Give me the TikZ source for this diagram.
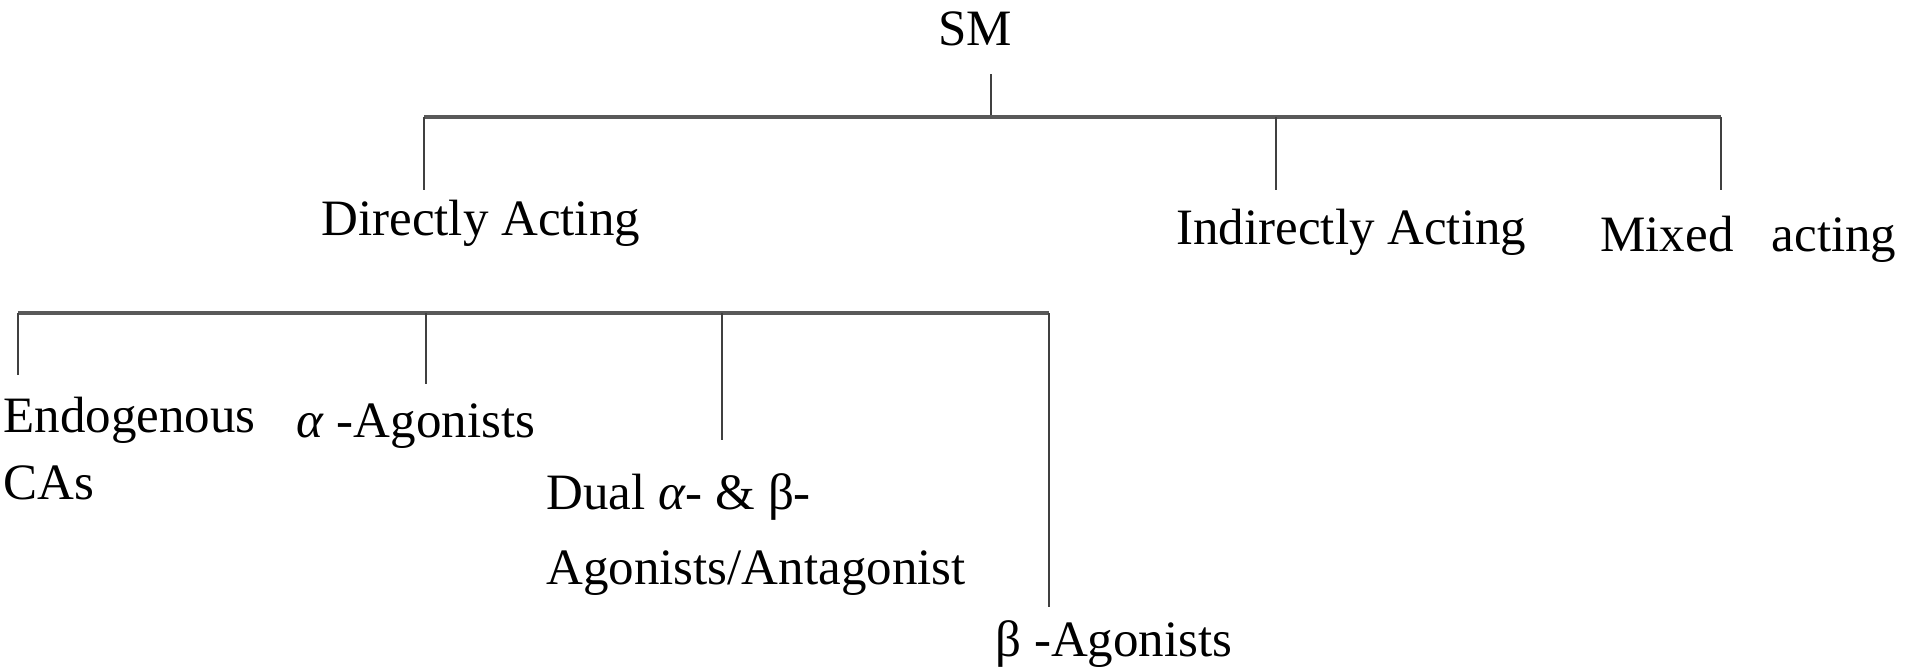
\documentclass[tikz,border=0pt]{standalone}
\usepackage{fontspec}
\setmainfont{Liberation Serif}
\usetikzlibrary{positioning}
\tikzset{
    lbl/.style={inner sep=0pt, anchor=base west, align=left, font=\fontsize{25.5}{33.5}\selectfont},
    bar/.style={draw=black!65, line width=1.8pt},
    drop/.style={draw=black!75, line width=1.2pt},
}
\begin{document}
\begin{tikzpicture}[x=0.5pt, y=-0.5pt]
    \useasboundingbox (0,0) rectangle (1907,670);
    \node [lbl, anchor=base] (sm) at (975,45) {SM};
    \coordinate (s0) at (991,74);
    \coordinate (s1) at (991,117);
    \coordinate (t0) at (424,117);
    \coordinate (t1) at (1276,117);
    \coordinate (t2) at (1721,117);
    \node [lbl] (da) at (321,235) {Directly Acting};
    \node [lbl] (ia) at (1176,244) {Indirectly Acting};
    \node [lbl] (ma) at (1600,251) {Mixed~~~acting};
    \coordinate (d0) at (424,190);
    \coordinate (d1) at (1276,190);
    \coordinate (d2) at (1721,190);
    \coordinate (b0) at (18,313);
    \coordinate (b1) at (426,313);
    \coordinate (b2) at (722,313);
    \coordinate (b3) at (1049,313);
    \node [lbl] (en) at (3,499) {Endogenous\\CAs};
    \node [lbl] (al) at (296,437) {\textit{α} -Agonists};
    \node [lbl] (du) at (546,584) {Dual \textit{α}- \& β-\\[4pt]Agonists/Antagonist};
    \node [lbl] (be) at (995,656) {β -Agonists};
    \coordinate (e0) at (18,375);
    \coordinate (e1) at (426,384);
    \coordinate (e2) at (722,440);
    \coordinate (e3) at (1049,607);
    \draw [drop] (s0) -- (s1);
    \draw [bar] (t0) -- (t2);
    \draw [drop] (t0) -- (d0);
    \draw [drop] (t1) -- (d1);
    \draw [drop] (t2) -- (d2);
    \draw [bar] (b0) -- (b3);
    \draw [drop] (b0) -- (e0);
    \draw [drop] (b1) -- (e1);
    \draw [drop] (b2) -- (e2);
    \draw [drop] (b3) -- (e3);
\end{tikzpicture}
\end{document}
